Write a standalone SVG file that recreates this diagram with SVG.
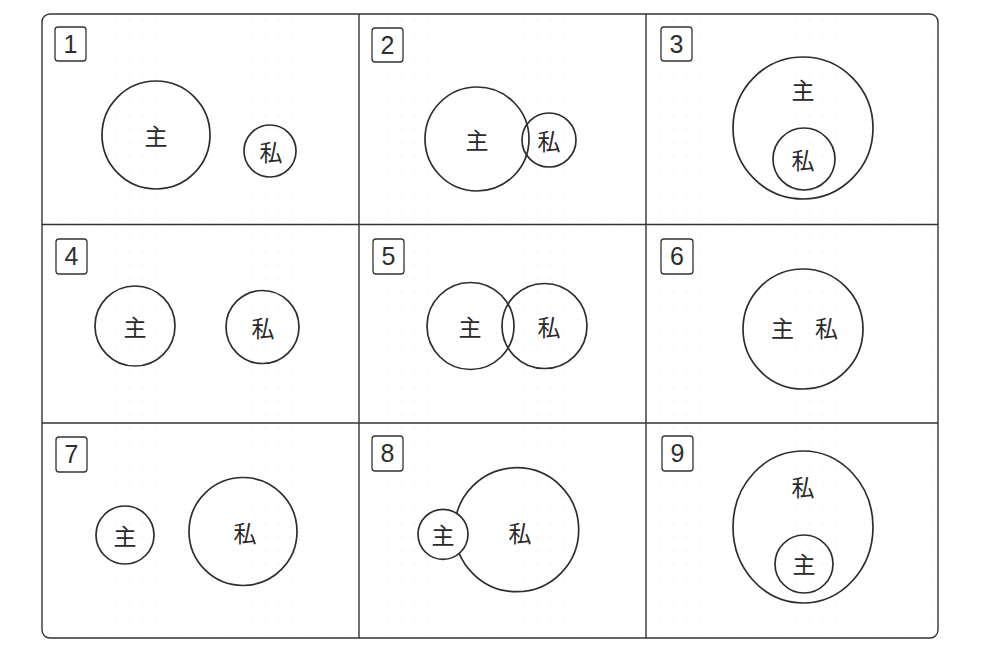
<svg xmlns="http://www.w3.org/2000/svg" width="1000" height="658" viewBox="0 0 1000 658">
<style>
.ln{fill:none;stroke:#333;stroke-width:1.4}
.c{fill:none;stroke:#2e2e2e;stroke-width:1.7}
.cw{fill:#fff;stroke:#2e2e2e;stroke-width:1.7}
.lb{fill:#fff;stroke:#333;stroke-width:1.3}
.num{font-family:"Liberation Sans","DejaVu Sans",sans-serif;font-size:25px;fill:#2e2e2e;text-anchor:middle}
.t{font-family:"Noto Sans CJK JP","Noto Sans CJK SC",sans-serif;font-size:23px;fill:#2a2a2a;text-anchor:middle;dominant-baseline:central}
</style>
<defs>
<pattern id="dots" x="0" y="0" width="13.6" height="13.6" patternUnits="userSpaceOnUse">
<circle cx="6.8" cy="6.8" r="0.8" fill="#ececec"/>
</pattern>
</defs>
<rect width="1000" height="658" fill="#fff"/>
<g id="frame">
<rect x="42" y="14" width="896" height="624" rx="8" fill="url(#dots)"/>
<rect x="42" y="14" width="896" height="624" rx="8" class="ln"/>
<line x1="359" y1="14" x2="359" y2="638" class="ln"/>
<line x1="646" y1="14" x2="646" y2="638" class="ln"/>
<line x1="42" y1="224.5" x2="938" y2="224.5" class="ln"/>
<line x1="42" y1="423" x2="938" y2="423" class="ln"/>
</g>
<g id="panel1">
<rect x="55" y="27" width="31" height="34" rx="3" class="lb"/>
<text x="70.5" y="53" class="num">1</text>
<circle cx="156" cy="135" r="54" class="c"/>
<circle cx="270" cy="151" r="26" class="c"/>
<text x="156" y="135" class="t">主</text>
<text x="271" y="151" class="t">私</text>
</g>
<g id="panel2">
<rect x="372" y="28" width="31" height="34" rx="3" class="lb"/>
<text x="387.5" y="54" class="num">2</text>
<circle cx="477" cy="139" r="52" class="c"/>
<circle cx="549" cy="140" r="27" class="c"/>
<text x="477" y="139" class="t">主</text>
<text x="549" y="140" class="t">私</text>
</g>
<g id="panel3">
<rect x="661" y="27" width="31" height="34" rx="3" class="lb"/>
<text x="676.5" y="53" class="num">3</text>
<ellipse cx="803" cy="128" rx="70" ry="71" class="c"/>
<circle cx="804" cy="159" r="31" class="c"/>
<text x="803" y="89" class="t">主</text>
<text x="803" y="159" class="t">私</text>
</g>
<g id="panel4">
<rect x="56" y="239" width="31" height="35" rx="3" class="lb"/>
<text x="71.5" y="265" class="num">4</text>
<circle cx="135" cy="326" r="40" class="c"/>
<circle cx="262.5" cy="327" r="36.5" class="c"/>
<text x="135" y="326" class="t">主</text>
<text x="263" y="327" class="t">私</text>
</g>
<g id="panel5">
<rect x="373" y="239" width="31" height="35" rx="3" class="lb"/>
<text x="388.5" y="265" class="num">5</text>
<circle cx="470.5" cy="326" r="43.5" class="c"/>
<circle cx="544.5" cy="326" r="42.5" class="c"/>
<text x="470" y="326" class="t">主</text>
<text x="549" y="326" class="t">私</text>
</g>
<g id="panel6">
<rect x="661" y="239" width="32" height="35" rx="3" class="lb"/>
<text x="677" y="265" class="num">6</text>
<circle cx="803" cy="329" r="60" class="c"/>
<text x="782.5" y="327" class="t">主</text>
<text x="826.5" y="327" class="t">私</text>
</g>
<g id="panel7">
<rect x="56" y="437" width="31" height="35" rx="3" class="lb"/>
<text x="71.5" y="463" class="num">7</text>
<circle cx="125" cy="535" r="29" class="c"/>
<circle cx="243" cy="531.5" r="54" class="c"/>
<text x="125" y="535" class="t">主</text>
<text x="245" y="531.5" class="t">私</text>
</g>
<g id="panel8">
<rect x="372" y="436" width="31" height="35" rx="3" class="lb"/>
<text x="387.5" y="462" class="num">8</text>
<circle cx="516.7" cy="529.7" r="62" class="c"/>
<circle cx="443" cy="534.3" r="25" class="cw"/>
<text x="443" y="534" class="t">主</text>
<text x="520" y="531.5" class="t">私</text>
</g>
<g id="panel9">
<rect x="662" y="436" width="31" height="35" rx="3" class="lb"/>
<text x="677.5" y="462" class="num">9</text>
<ellipse cx="803" cy="527" rx="70" ry="76" class="c"/>
<circle cx="804" cy="564" r="29" class="c"/>
<text x="803" y="486" class="t">私</text>
<text x="804" y="563" class="t">主</text>
</g>
<g id="connectors"></g>
</svg>
